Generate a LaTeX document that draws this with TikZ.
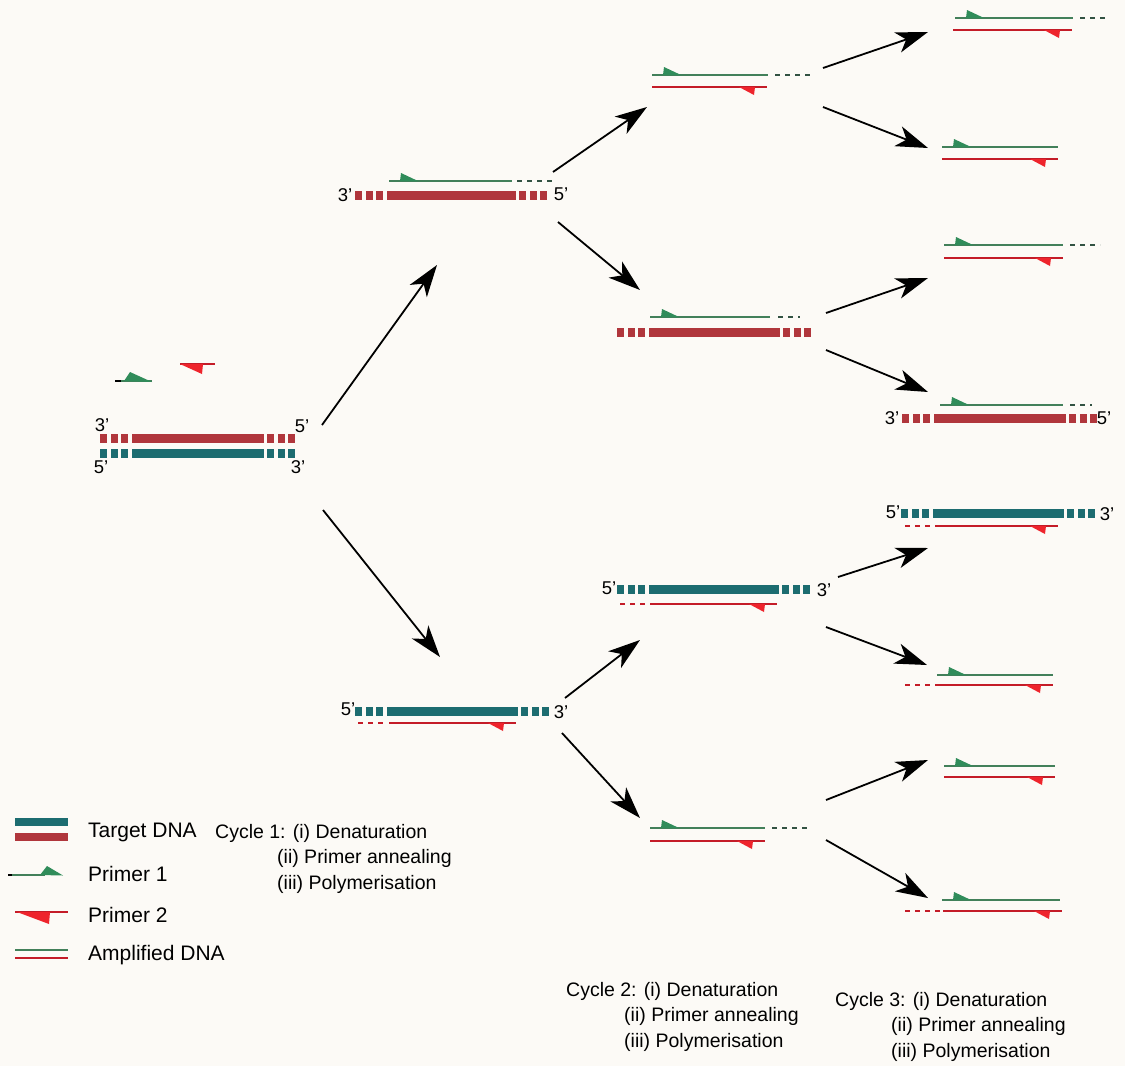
\documentclass[tikz,border=0pt]{standalone}
\usepackage{fontspec}
\setmainfont{Liberation Sans}
\usepackage{tikz}
\usetikzlibrary{arrows.meta}

\definecolor{paper}{RGB}{252,250,246}
\definecolor{tealdna}{RGB}{28,108,112}
\definecolor{reddna}{RGB}{176,54,60}
\definecolor{ampgreen}{RGB}{66,128,90}
\definecolor{ampred}{RGB}{196,28,40}
\definecolor{primergreen}{RGB}{48,140,90}
\definecolor{primerred}{RGB}{238,36,44}
\definecolor{dashgreen}{RGB}{50,82,66}

% template strand: three blocks, long bar, three blocks
\newcommand{\tmplstrand}[4]{%
  \foreach \k in {0,1,2}{%
    \fill[#4] ({#1+\k*10.5},{#3-4.5}) rectangle ++(7,9);
    \fill[#4] ({#2-7-\k*10.5},{#3-4.5}) rectangle ++(7,9);
  }
  \fill[#4] ({#1+31.5},{#3-4.5}) rectangle ({#2-31.5},{#3+4.5});
}
% new strand grown from primer 1 (top)
\newcommand{\fwdstrand}[3]{%
  \draw[newgreen] (#1,#3) -- (#2,#3);
  \fill[primergreen] ({#1+11},#3) -- ({#1+12},{#3-8}) -- ({#1+29},#3) -- cycle;
}
% new strand grown from primer 2 (bottom)
\newcommand{\revstrand}[3]{%
  \draw[newred] (#1,#3) -- (#2,#3);
  \fill[primerred] ({#2-28},#3) -- ({#2-13},{#3+8}) -- ({#2-12},#3) -- cycle;
}

\begin{document}
\begin{tikzpicture}[x=1pt, y=-1pt,
    dnalbl/.style={font=\fontsize{18.5}{18.5}\selectfont, inner sep=0pt},
    legendtxt/.style={font=\fontsize{21}{24}\selectfont, anchor=west, inner sep=0pt},
    cycletxt/.style={font=\fontsize{19.5}{25.5}\selectfont, align=left, anchor=base west, inner sep=0pt},
    newgreen/.style={draw=ampgreen, line width=2.6pt},
    newred/.style={draw=ampred, line width=2.6pt},
    gapdash/.style={line width=2.6pt, dash pattern=on 5pt off 5pt},
    pcrarrow/.style={-{Stealth[length=32pt, width=21pt, inset=9pt]}, line width=1.8pt}
]
\useasboundingbox (0,0) rectangle (1125,1066);
\fill[paper] (0,0) rectangle (1125,1066);

% Starting template and free primers
\tmplstrand{100}{295}{438}{reddna}
\tmplstrand{100}{295}{453}{tealdna}
\node[dnalbl] (p0-a) at (102,425) {3'};
\node[dnalbl] (p0-b) at (302,426) {5'};
\node[dnalbl] (p0-c) at (101,467) {5'};
\node[dnalbl] (p0-d) at (298,467) {3'};
\draw[newgreen] (121,381) -- (152,381);
\draw[black, line width=2.6pt] (115,381) -- (121,381);
\fill[primergreen] (124,381) -- (130,372) -- (152,382) -- cycle;
\draw[newred] (180,364) -- (215,364);
\fill[primerred] (180,364) -- (203,364) -- (202,374) -- cycle;

% Cycle 1 products
\tmplstrand{355}{547}{195}{reddna}
\fwdstrand{389}{512}{181}
\draw[gapdash, dashgreen] (517,181) -- (552,181);
\node[dnalbl] (c1a-l) at (345,195) {3'};
\node[dnalbl] (c1a-r) at (561,194) {5'};

\tmplstrand{355}{549}{711}{tealdna}
\revstrand{389}{516}{723}
\draw[gapdash, ampred] (358,723) -- (385,723);
\node[dnalbl] (c1b-l) at (348,709) {5'};
\node[dnalbl] (c1b-r) at (561,712) {3'};

% Cycle 2 products
\fwdstrand{652}{768}{75}
\draw[gapdash, dashgreen] (775,75) -- (810,75);
\revstrand{652}{767}{87}

\tmplstrand{617}{811}{332}{reddna}
\fwdstrand{650}{770}{317}
\draw[gapdash, dashgreen] (778,317) -- (800,317);

\tmplstrand{617}{810}{589}{tealdna}
\revstrand{650}{777}{604}
\draw[gapdash, ampred] (620,604) -- (647,604);
\node[dnalbl] (c2c-l) at (609,588) {5'};
\node[dnalbl] (c2c-r) at (824,590) {3'};

\fwdstrand{650}{765}{828}
\draw[gapdash, dashgreen] (772,828) -- (810,828);
\revstrand{650}{765}{841}

% Cycle 3 products
\fwdstrand{955}{1073}{18}
\draw[gapdash, dashgreen] (1080,18) -- (1105,18);
\revstrand{953}{1072}{30}

\fwdstrand{942}{1058}{147}
\revstrand{942}{1058}{159}

\fwdstrand{944}{1063}{245}
\draw[gapdash, dashgreen] (1070,245) -- (1100,245);
\revstrand{944}{1063}{258}

\tmplstrand{902}{1097}{418}{reddna}
\fwdstrand{940}{1063}{405}
\draw[gapdash, dashgreen] (1070,405) -- (1092,405);
\node[dnalbl] (c3d-l) at (892,418) {3'};
\node[dnalbl] (c3d-r) at (1104,418) {5'};

\tmplstrand{901}{1095}{513}{tealdna}
\revstrand{935}{1058}{526}
\draw[gapdash, ampred] (905,526) -- (932,526);
\node[dnalbl] (c3e-l) at (893,512) {5'};
\node[dnalbl] (c3e-r) at (1107,514) {3'};

\fwdstrand{937}{1053}{675}
\revstrand{935}{1053}{685}
\draw[gapdash, ampred] (905,685) -- (932,685);

\fwdstrand{944}{1055}{766}
\revstrand{944}{1055}{777}

\fwdstrand{942}{1060}{900}
\revstrand{943}{1062}{911}
\draw[gapdash, ampred] (905,911) -- (940,911);

% Arrow ends
\coordinate (p0-up) at (322,425);  \coordinate (c1a-in) at (437,265);
\coordinate (p0-dn) at (323,510);  \coordinate (c1b-in) at (440,657);
\coordinate (c1a-up) at (553,172); \coordinate (c2a-in) at (647,107);
\coordinate (c1a-dn) at (558,222); \coordinate (c2b-in) at (640,290);
\coordinate (c1b-up) at (565,698); \coordinate (c2c-in) at (640,640);
\coordinate (c1b-dn) at (562,733); \coordinate (c2d-in) at (640,818);
\coordinate (c2a-up) at (823,68);  \coordinate (c3a-in) at (928,32);
\coordinate (c2a-dn) at (823,107); \coordinate (c3b-in) at (928,148);
\coordinate (c2b-up) at (826,313); \coordinate (c3c-in) at (928,278);
\coordinate (c2b-dn) at (826,350); \coordinate (c3d-in) at (928,392);
\coordinate (c2c-up) at (838,577); \coordinate (c3e-in) at (928,548);
\coordinate (c2c-dn) at (826,627); \coordinate (c3f-in) at (927,665);
\coordinate (c2d-up) at (826,800); \coordinate (c3g-in) at (928,760);
\coordinate (c2d-dn) at (826,840); \coordinate (c3h-in) at (928,898);

% Arrows
\draw[pcrarrow] (p0-up) -- (c1a-in);
\draw[pcrarrow] (p0-dn) -- (c1b-in);
\draw[pcrarrow] (c1a-up) -- (c2a-in);
\draw[pcrarrow] (c1a-dn) -- (c2b-in);
\draw[pcrarrow] (c1b-up) -- (c2c-in);
\draw[pcrarrow] (c1b-dn) -- (c2d-in);
\draw[pcrarrow] (c2a-up) -- (c3a-in);
\draw[pcrarrow] (c2a-dn) -- (c3b-in);
\draw[pcrarrow] (c2b-up) -- (c3c-in);
\draw[pcrarrow] (c2b-dn) -- (c3d-in);
\draw[pcrarrow] (c2c-up) -- (c3e-in);
\draw[pcrarrow] (c2c-dn) -- (c3f-in);
\draw[pcrarrow] (c2d-up) -- (c3g-in);
\draw[pcrarrow] (c2d-dn) -- (c3h-in);

% Legend
\fill[tealdna] (15,818) rectangle (68,826);
\fill[reddna] (15,833) rectangle (68,841);
\node[legendtxt] (lg-target) at (88,832) {Target DNA};
\draw[newgreen] (12,875) -- (45,875);
\draw[black, line width=2.6pt] (8,875) -- (12,875);
\fill[primergreen] (40,875) -- (47,866) -- (63,875.5) -- cycle;
\node[legendtxt] (lg-p1) at (88,874) {Primer 1};
\draw[newred] (15,912) -- (68,912);
\fill[primerred] (17,912) -- (50,912) -- (49,924) -- cycle;
\node[legendtxt] (lg-p2) at (88,915) {Primer 2};
\draw[newgreen] (15,950) -- (68,950);
\draw[newred] (15,958) -- (68,958);
\node[legendtxt] (lg-amp) at (88,955) {Amplified DNA};

% Cycle notes
\node[cycletxt] (cyc1) at (215,889) {Cycle 1: (i) Denaturation\\\hspace*{62pt}(ii) Primer annealing\\\hspace*{62pt}(iii) Polymerisation};
\node[cycletxt] (cyc2) at (566,1047) {Cycle 2: (i) Denaturation\\\hspace*{58pt}(ii) Primer annealing\\\hspace*{58pt}(iii) Polymerisation};
\node[cycletxt] (cyc3) at (835,1057) {Cycle 3: (i) Denaturation\\\hspace*{56pt}(ii) Primer annealing\\\hspace*{56pt}(iii) Polymerisation};

\end{tikzpicture}
\end{document}
